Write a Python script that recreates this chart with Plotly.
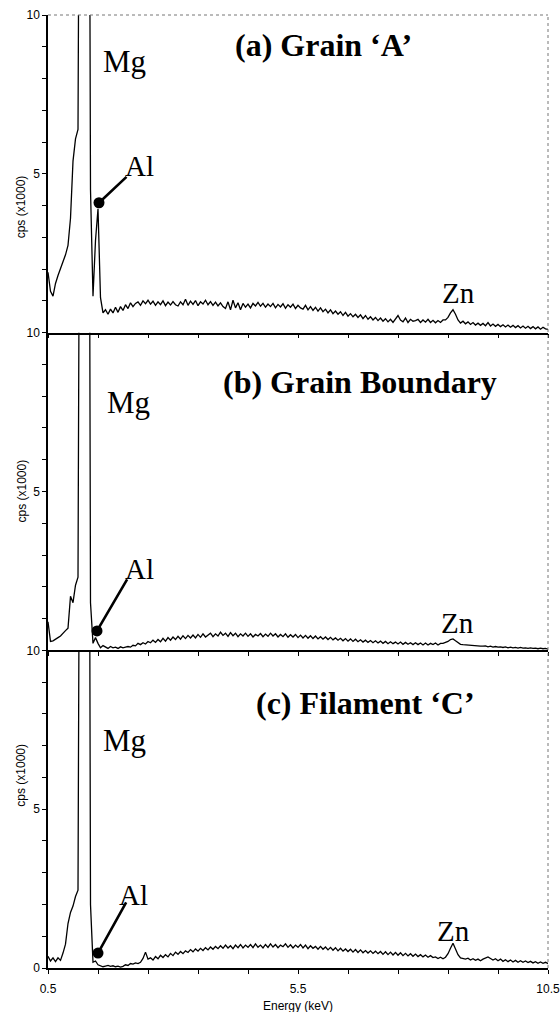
import plotly.graph_objects as go

# ---------------- data ----------------
energy_start = 0.5
energy_step = 0.05

spec_a = [1.90, 1.30, 1.15, 1.55, 1.80, 2.00, 2.25, 2.45, 2.75, 3.60,
          5.40, 6.10, 6.40, 22.0, 55.0, 62.0, 30.0, 4.50, 1.15, 2.90,
          3.90, 1.10, 0.62, 0.72, 0.58, 0.74, 0.62, 0.80, 0.64, 0.82,
          0.70, 0.88, 0.76, 0.94, 0.82, 0.92, 0.97, 0.86, 1.00, 0.91,
          1.02, 0.90, 0.99, 0.86, 0.97, 0.88, 1.00, 0.85, 0.96, 0.87,
          0.98, 0.88, 0.84, 0.97, 0.88, 1.05, 0.86, 0.99, 0.89, 1.01,
          0.85, 0.97, 0.90, 1.02, 0.88, 0.98, 0.86, 0.96, 0.84, 0.94,
          0.82, 0.76, 0.97, 0.72, 1.02, 0.78, 0.94, 0.72, 0.92, 0.80,
          0.90, 0.78, 0.92, 0.84, 0.95, 0.83, 0.92, 0.80, 0.90, 0.82,
          0.92, 0.78, 0.89, 0.81, 0.91, 0.77, 0.88, 0.80, 0.90, 0.76,
          0.86, 0.78, 0.74, 0.86, 0.72, 0.82, 0.70, 0.80, 0.68, 0.78,
          0.66, 0.74, 0.62, 0.72, 0.60, 0.68, 0.58, 0.66, 0.54, 0.64,
          0.52, 0.60, 0.50, 0.58, 0.48, 0.56, 0.44, 0.54, 0.42, 0.50,
          0.40, 0.48, 0.38, 0.46, 0.36, 0.44, 0.34, 0.42, 0.32, 0.42,
          0.54, 0.40, 0.34, 0.46, 0.32, 0.42, 0.36, 0.38, 0.42, 0.32,
          0.40, 0.33, 0.42, 0.32, 0.39, 0.31, 0.38, 0.32, 0.40, 0.40,
          0.48, 0.62, 0.72, 0.58, 0.40, 0.30, 0.36, 0.28, 0.34, 0.26,
          0.32, 0.24, 0.30, 0.23, 0.29, 0.22, 0.32, 0.21, 0.27, 0.20,
          0.26, 0.19, 0.25, 0.18, 0.24, 0.17, 0.23, 0.16, 0.22, 0.15,
          0.21, 0.14, 0.20, 0.13, 0.19, 0.12, 0.18, 0.11, 0.17, 0.12,
          0.10]

spec_b = [0.90, 0.28, 0.30, 0.34, 0.40, 0.45, 0.52, 0.62, 0.70, 1.70,
          1.50, 2.05, 2.30, 24.0, 58.0, 65.0, 32.0, 1.50, 0.22, 0.40,
          0.22, 0.08, 0.15, 0.10, 0.06, 0.12, 0.08, 0.10, 0.06, 0.11,
          0.08, 0.10, 0.12, 0.10, 0.16, 0.14, 0.22, 0.18, 0.24, 0.20,
          0.28, 0.24, 0.32, 0.25, 0.34, 0.27, 0.38, 0.29, 0.40, 0.32,
          0.42, 0.34, 0.44, 0.35, 0.46, 0.37, 0.47, 0.39, 0.48, 0.39,
          0.50, 0.41, 0.52, 0.42, 0.48, 0.54, 0.43, 0.52, 0.45, 0.57,
          0.47, 0.54, 0.44, 0.56, 0.46, 0.54, 0.43, 0.52, 0.45, 0.54,
          0.44, 0.52, 0.42, 0.50, 0.45, 0.53, 0.43, 0.51, 0.44, 0.54,
          0.45, 0.52, 0.42, 0.50, 0.43, 0.52, 0.41, 0.49, 0.42, 0.50,
          0.40, 0.48, 0.39, 0.47, 0.38, 0.46, 0.37, 0.45, 0.36, 0.43,
          0.35, 0.42, 0.34, 0.41, 0.33, 0.39, 0.32, 0.38, 0.30, 0.37,
          0.29, 0.36, 0.28, 0.35, 0.27, 0.33, 0.26, 0.32, 0.25, 0.31,
          0.24, 0.30, 0.23, 0.29, 0.22, 0.28, 0.21, 0.27, 0.21, 0.26,
          0.20, 0.26, 0.19, 0.25, 0.19, 0.24, 0.18, 0.24, 0.18, 0.23,
          0.17, 0.23, 0.17, 0.22, 0.18, 0.23, 0.17, 0.22, 0.22, 0.24,
          0.28, 0.34, 0.36, 0.30, 0.24, 0.19, 0.18, 0.17, 0.16, 0.15,
          0.15, 0.14, 0.14, 0.13, 0.13, 0.14, 0.11, 0.13, 0.10, 0.12,
          0.10, 0.11, 0.09, 0.11, 0.08, 0.10, 0.08, 0.09, 0.07, 0.09,
          0.07, 0.08, 0.06, 0.08, 0.06, 0.07, 0.05, 0.07, 0.05, 0.06,
          0.04]

spec_c = [0.37, 0.22, 0.32, 0.20, 0.32, 0.24, 0.47, 0.75, 1.40, 1.75,
          1.95, 2.25, 2.45, 24.0, 58.0, 64.0, 32.0, 2.00, 0.18, 0.22,
          0.10, 0.08, 0.04, 0.06, 0.08, 0.05, 0.07, 0.04, 0.06, 0.03,
          0.05, 0.10, 0.08, 0.14, 0.12, 0.16, 0.14, 0.18, 0.30, 0.50,
          0.28, 0.32, 0.25, 0.36, 0.29, 0.40, 0.33, 0.42, 0.35, 0.46,
          0.39, 0.50, 0.43, 0.52, 0.45, 0.54, 0.49, 0.58, 0.51, 0.60,
          0.53, 0.62, 0.55, 0.64, 0.57, 0.66, 0.59, 0.68, 0.61, 0.70,
          0.62, 0.72, 0.63, 0.70, 0.61, 0.72, 0.64, 0.74, 0.63, 0.72,
          0.65, 0.74, 0.64, 0.76, 0.65, 0.72, 0.63, 0.74, 0.65, 0.76,
          0.66, 0.74, 0.64, 0.72, 0.67, 0.76, 0.65, 0.73, 0.63, 0.72,
          0.65, 0.74, 0.63, 0.72, 0.61, 0.70, 0.62, 0.68, 0.59, 0.68,
          0.59, 0.66, 0.57, 0.65, 0.56, 0.64, 0.54, 0.62, 0.53, 0.60,
          0.52, 0.59, 0.50, 0.58, 0.49, 0.57, 0.48, 0.55, 0.47, 0.54,
          0.46, 0.53, 0.45, 0.52, 0.43, 0.51, 0.42, 0.50, 0.41, 0.49,
          0.40, 0.48, 0.39, 0.46, 0.38, 0.45, 0.37, 0.44, 0.36, 0.42,
          0.35, 0.41, 0.34, 0.39, 0.33, 0.35, 0.30, 0.34, 0.29, 0.34,
          0.45, 0.62, 0.78, 0.60, 0.42, 0.32, 0.30, 0.28, 0.31, 0.25,
          0.29, 0.24, 0.28, 0.23, 0.28, 0.32, 0.35, 0.30, 0.25, 0.29,
          0.23, 0.28, 0.21, 0.26, 0.20, 0.25, 0.19, 0.24, 0.18, 0.23,
          0.18, 0.22, 0.17, 0.21, 0.16, 0.20, 0.15, 0.19, 0.15, 0.18,
          0.14]

energy = [round(energy_start + energy_step * i, 2) for i in range(len(spec_a))]

panel_titles = ["(a) Grain \u2018A\u2019", "(b) Grain Boundary", "(c) Filament \u2018C\u2019"]
al_dot_x = [1.52, 1.48, 1.50]
al_dot_y = [4.09, 0.61, 0.47]

x_tickvals = [0.5, 1.5, 2.5, 3.5, 4.5, 5.5, 6.5, 7.5, 8.5, 9.5, 10.5]
x_ticktext = ["0.5", "", "", "", "", "5.5", "", "", "", "", "10.5"]
y_tickvals = [0, 1, 2, 3, 4, 5, 6, 7, 8, 9, 10]
y_ticktext_upper = ["", "", "", "", "", "5", "", "", "", "", "10"]
y_ticktext_lower = ["0", "", "", "", "", "5", "", "", "", "", "10"]

# ---------------- figure ----------------
spectra = [spec_a, spec_b, spec_c]
domains = [[2/3, 1.0], [1/3, 2/3], [0.0, 1/3]]

# label positions (keV, cps) for each panel
title_pos = [(6.0, 9.05), (6.74, 8.45), (6.84, 8.35)]
mg_pos = [(2.02, 8.55), (2.10, 7.80), (2.02, 7.15)]
al_pos = [(2.32, 5.25), (2.32, 2.55), (2.20, 2.30)]
al_line_end = [(2.10, 4.95), (2.10, 2.28), (2.08, 2.11)]
zn_pos = [(8.70, 1.25), (8.68, 0.86), (8.60, 1.16)]

fig = go.Figure()
layout = dict(
    width=560, height=1012,
    margin=dict(l=48, r=12, t=15, b=44, autoexpand=False),
    paper_bgcolor="white", plot_bgcolor="white",
    showlegend=False,
    font=dict(family="Liberation Sans, Arial", color="black", size=12),
)

annotations = []
serif = "Liberation Serif, Times New Roman"
for k in range(3):
    sfx = "" if k == 0 else str(k + 1)
    xa = "x" + sfx
    ya = "y" + sfx
    fig.add_trace(go.Scatter(x=energy, y=spectra[k], mode="lines",
                             line=dict(color="black", width=1.3),
                             xaxis=xa, yaxis=ya, hoverinfo="skip"))
    fig.add_trace(go.Scatter(x=[al_dot_x[k]], y=[al_dot_y[k]], mode="markers",
                             marker=dict(color="black", size=11),
                             xaxis=xa, yaxis=ya, hoverinfo="skip", cliponaxis=False))
    layout["xaxis" + sfx] = dict(
        domain=[0, 1], anchor=ya, range=[0.5, 10.5], automargin=False,
        showline=True, linecolor="black", linewidth=1.5,
        ticks="outside", ticklen=4, tickwidth=1, tickcolor="black",
        tickvals=x_tickvals, ticktext=x_ticktext,
        showticklabels=(k == 2), showgrid=False, zeroline=False,
        ticklabelstandoff=5, ticklabeloverflow="allow",
        tickfont=dict(size=12),
    )
    layout["yaxis" + sfx] = dict(
        domain=domains[k], anchor=xa, range=[0, 10], automargin=False,
        showline=True, linecolor="black", linewidth=1.5,
        ticks="outside", ticklen=4, tickwidth=1, tickcolor="black",
        tickvals=y_tickvals,
        ticktext=(y_ticktext_lower if k == 2 else y_ticktext_upper),
        showgrid=False, zeroline=False, ticklabeloverflow="allow",
        tickfont=dict(size=12),
    )
    annotations.append(dict(xref=xa, yref=ya, x=title_pos[k][0], y=title_pos[k][1],
                            text="<b>" + panel_titles[k] + "</b>", showarrow=False,
                            font=dict(family=serif, size=32, color="black")))
    annotations.append(dict(xref=xa, yref=ya, x=mg_pos[k][0], y=mg_pos[k][1],
                            text="Mg", showarrow=False,
                            font=dict(family=serif, size=31, color="black")))
    annotations.append(dict(xref=xa, yref=ya, x=al_pos[k][0], y=al_pos[k][1],
                            text="Al", showarrow=False,
                            font=dict(family=serif, size=29, color="black")))
    annotations.append(dict(xref=xa, yref=ya, x=zn_pos[k][0], y=zn_pos[k][1],
                            text="Zn", showarrow=False,
                            font=dict(family=serif, size=29, color="black")))
    annotations.append(dict(xref=xa, yref=ya, x=al_dot_x[k], y=al_dot_y[k],
                            axref=xa, ayref=ya, ax=al_line_end[k][0], ay=al_line_end[k][1],
                            text="", showarrow=True, arrowhead=0, arrowwidth=2.6,
                            arrowcolor="black", standoff=0, startstandoff=0))
    dm = domains[k]
    annotations.append(dict(xref="paper", yref="paper", x=-0.072, y=(dm[0] + dm[1]) / 2,
                            text="cps (x1000)", textangle=-90, showarrow=False,
                            font=dict(size=12, color="black")))

annotations.append(dict(xref="paper", yref="paper", x=0.5, y=-0.0395,
                        text="Energy (keV)", showarrow=False,
                        yanchor="middle", font=dict(size=12, color="black")))

layout["annotations"] = annotations
layout["shapes"] = [
    dict(type="line", xref="paper", yref="paper", x0=0, x1=1, y0=1, y1=1,
         line=dict(color="#777777", width=1, dash="dot")),
    dict(type="line", xref="paper", yref="paper", x0=1, x1=1, y0=0, y1=1,
         line=dict(color="#777777", width=1, dash="dot")),
]
fig.update_layout(**layout)
fig.write_html("out.html")
